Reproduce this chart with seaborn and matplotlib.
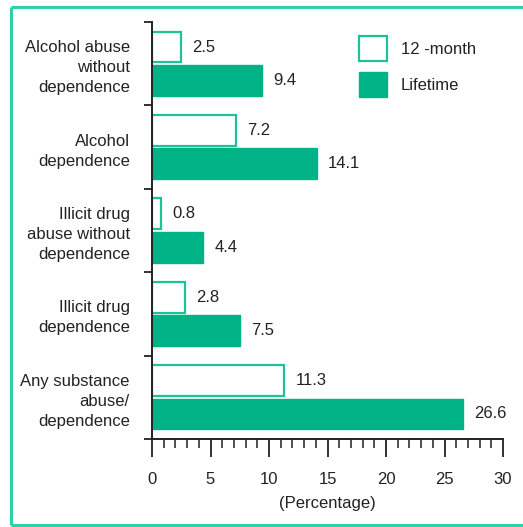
import matplotlib
matplotlib.use("Agg")
import matplotlib.pyplot as plt
from matplotlib.patches import Rectangle
from matplotlib.lines import Line2D
from matplotlib.ticker import MultipleLocator, FixedLocator
import seaborn as sns
import pandas as pd

categories = [
    "Alcohol abuse\nwithout\ndependence",
    "Alcohol\ndependence",
    "Illicit drug\nabuse without\ndependence",
    "Illicit drug\ndependence",
    "Any substance\nabuse/\ndependence",
]
series_names = ["12 -month", "Lifetime"]
twelve_month = [2.5, 7.2, 0.8, 2.8, 11.3]
lifetime = [9.4, 14.1, 4.4, 7.5, 26.6]
x_ticks = [0, 5, 10, 15, 20, 25, 30]
x_label = "(Percentage)"

TEAL = "#00b386"
EDGE = "#1cc495"
BORDER = "#2fd0a5"
INK = "#222222"

rows = []
for c, a, b in zip(categories, twelve_month, lifetime):
    rows.append({"Category": c, "Period": series_names[0], "Value": a})
    rows.append({"Category": c, "Period": series_names[1], "Value": b})
df = pd.DataFrame(rows)

sns.set_style("white")
plt.rcParams["font.family"] = ["Liberation Sans", "DejaVu Sans"]
plt.rcParams.update({
    "xtick.bottom": True, "xtick.direction": "out",
    "xtick.major.size": 13, "xtick.minor.size": 6.5,
    "xtick.major.width": 1.3, "xtick.minor.width": 1.1,
    "xtick.color": INK,
})
FS = 12

fig = plt.figure(figsize=(5.23, 5.27), dpi=100)
W, H = 523, 527
ax = fig.add_axes([152 / W, 1 - 439 / H, (503 - 152) / W, (439 - 22) / H])

sns.barplot(data=df, y="Category", x="Value", hue="Period", order=categories,
            hue_order=series_names, palette=[TEAL, TEAL], width=0.8, gap=0.08,
            orient="h", ax=ax, legend=False, saturation=1)

for p in ax.containers[0]:
    p.set_facecolor("white")
    p.set_edgecolor(EDGE)
    p.set_linewidth(1.6)
for p in ax.containers[1]:
    p.set_facecolor(TEAL)
    p.set_edgecolor(TEAL)
    p.set_linewidth(1.0)

for cont in ax.containers:
    ax.bar_label(cont, fmt="%.1f", padding=8, fontsize=FS, color=INK)

ax.set_xlim(0, 30)
ax.set_ylim(len(categories) - 0.5, -0.5)
ax.set_xlabel(x_label, fontsize=FS, color=INK, labelpad=6)
ax.set_ylabel("")

ax.xaxis.set_major_locator(FixedLocator(x_ticks))
ax.xaxis.set_minor_locator(MultipleLocator(1))

ax.yaxis.set_minor_locator(FixedLocator([i - 0.5 for i in range(len(categories) + 1)]))
ax.tick_params(axis="y", which="major", length=0, labelsize=FS,
               labelcolor=INK, pad=16)
ax.tick_params(axis="y", which="minor", direction="out", length=6, width=1.3,
               color=INK, left=True)
for lbl in ax.get_yticklabels():
    lbl.set_multialignment("right")
    lbl.set_linespacing(1.42)

for s in ["top", "right"]:
    ax.spines[s].set_visible(False)
for s in ["left", "bottom"]:
    ax.spines[s].set_color(INK)
    ax.spines[s].set_linewidth(1.4)

handles = [Rectangle((0, 0), 1, 1, facecolor="white", edgecolor=EDGE, linewidth=1.6),
           Rectangle((0, 0), 1, 1, facecolor=TEAL, edgecolor=TEAL, linewidth=1.0)]
fig.legend(handles, series_names, loc="upper left",
           bbox_to_anchor=(344 / W, 1 - 21 / H), frameon=False, fontsize=FS,
           handlelength=1.7, handleheight=1.9, handletextpad=0.8,
           labelspacing=0.68, labelcolor=INK)

# teal frame around the picture (left, top, bottom; right side runs off the image)
xl, yt, yb = 10.5 / W, 1 - 7 / H, 1 - 525 / H
for xs, ys in [([xl, xl], [yb, yt]), ([xl, 1.02], [yt, yt]), ([xl, 1.02], [yb, yb])]:
    fig.add_artist(Line2D(xs, ys, transform=fig.transFigure, color=BORDER,
                          linewidth=2.2, solid_capstyle="butt"))

ax.tick_params(axis="x", which="minor", direction="out", length=6.5, width=1.1,
               color=INK, bottom=True)
ax.tick_params(axis="x", which="major", direction="out", length=13, width=1.3,
               color=INK, labelsize=FS, labelcolor=INK, pad=11, bottom=True)

fig.savefig("out.png", dpi=100)
